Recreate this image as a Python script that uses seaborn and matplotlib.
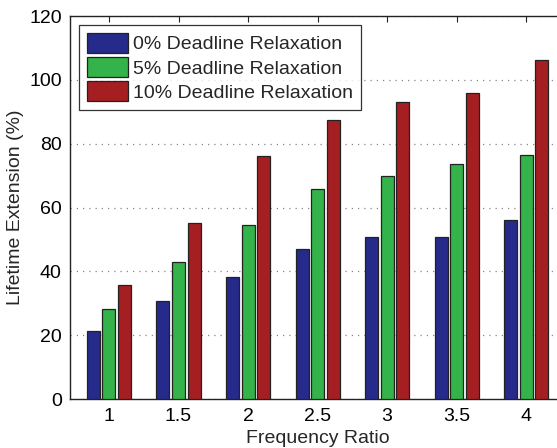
import pandas as pd
import matplotlib
matplotlib.use('Agg')
import matplotlib.pyplot as plt
import seaborn as sns

# Werte
ratios = ['1', '1.5', '2', '2.5', '3', '3.5', '4']
relax_0 = [21.2, 30.6, 38.2, 47.0, 50.8, 50.9, 56.0]
relax_5 = [28.4, 43.1, 54.7, 65.8, 70.0, 73.6, 76.5]
relax_10 = [35.7, 55.1, 76.3, 87.4, 93.2, 95.8, 106.2]
series = ['0% Deadline Relaxation', '5% Deadline Relaxation', '10% Deadline Relaxation']
colors = ['#262b8b', '#34b34a', '#a51e22']

df = pd.DataFrame({
    'ratio': ratios * 3,
    'value': relax_0 + relax_5 + relax_10,
    'serie': [s for s in series for _ in ratios],
})

sns.set_style('white')
plt.rcParams['font.family'] = ['Liberation Sans', 'DejaVu Sans']

fig = plt.figure(figsize=(5.57, 4.48), dpi=100)
ax = fig.add_axes([0.1257, 0.109, 0.889, 0.855])

sns.barplot(data=df, x='ratio', y='value', hue='serie', palette=colors,
            width=0.67, gap=0.16, edgecolor='#222222', linewidth=0.9,
            saturation=1, ax=ax, zorder=3)

ax.set_ylim(0, 120)
ax.set_xlim(-0.56, 6.56)
ax.set_yticks(range(0, 121, 20))
ax.yaxis.grid(True, linestyle=(0, (1, 4)), color='#888888', linewidth=0.9)
ax.set_axisbelow(True)
for s in ax.spines.values():
    s.set_color('#222222')
    s.set_linewidth(1.0)
ax.spines['right'].set_visible(False)
ax.tick_params(direction='in', length=4, width=0.8, top=True, right=False,
               labelsize=14, colors='#222222', labelcolor='black', pad=6)
ax.set_xlabel('Frequency Ratio', fontsize=14, labelpad=4)
ax.set_ylabel('Lifetime Extension (%)', fontsize=14, labelpad=4)

leg = ax.legend(loc='upper left', fontsize=14, frameon=True, fancybox=False,
                edgecolor='black', borderaxespad=0.45, handlelength=2.15,
                handleheight=1.2, handletextpad=0.25, labelspacing=0.2,
                borderpad=0.4)
leg.get_frame().set_linewidth(0.9)

fig.savefig('out.png', dpi=100)
